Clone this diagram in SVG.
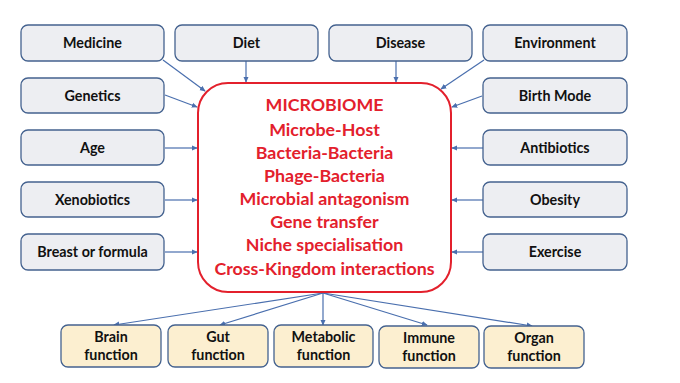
<svg xmlns="http://www.w3.org/2000/svg" width="680" height="383" viewBox="0 0 680 383">
<style>
.n rect{fill:#edeef2;stroke:#44628f;stroke-width:1.3}
.f rect{fill:#fcefd0;stroke:#44628f;stroke-width:1.3}
text{font-family:Lato,"Open Sans","Liberation Sans",sans-serif;font-weight:bold;text-anchor:middle}
.n text,.f text{font-size:14.3px;fill:#111}
.m text{font-size:17.8px;fill:#e3202c}
#edges line{stroke:#4a6fae;stroke-width:1.2;marker-end:url(#ah)}
</style>
<defs>
<marker id="ah" viewBox="0 0 8 8" refX="7" refY="4" markerWidth="6" markerHeight="6" orient="auto" markerUnits="userSpaceOnUse">
<path d="M0,0.5 L8,4 L0,7.5 z" fill="#4a6fae"/>
</marker>
</defs>
<rect width="680" height="383" fill="#fff"/>
<g id="edges">
<line x1="163" y1="60" x2="205" y2="91"/>
<line x1="246" y1="61" x2="246" y2="82"/>
<line x1="396" y1="61" x2="396" y2="82"/>
<line x1="484" y1="60" x2="441" y2="89"/>
<line x1="165" y1="95" x2="197" y2="107"/>
<line x1="482" y1="96" x2="452" y2="107"/>
<line x1="165" y1="148" x2="197" y2="148"/>
<line x1="165" y1="200" x2="197" y2="200"/>
<line x1="165" y1="252" x2="197" y2="252"/>
<line x1="483" y1="148" x2="452" y2="148"/>
<line x1="483" y1="200" x2="452" y2="200"/>
<line x1="483" y1="252" x2="452" y2="252"/>
<line x1="323" y1="293" x2="114" y2="325"/>
<line x1="323" y1="293" x2="220" y2="325"/>
<line x1="323" y1="293" x2="323" y2="325"/>
<line x1="323" y1="293" x2="427" y2="325"/>
<line x1="323" y1="293" x2="532" y2="326"/>
</g>
<g id="medicine" class="n"><rect x="21" y="25" width="143" height="36" rx="7"/><text x="92.5" y="48">Medicine</text></g>
<g id="diet" class="n"><rect x="175" y="25" width="143" height="36" rx="7"/><text x="246.5" y="48">Diet</text></g>
<g id="disease" class="n"><rect x="329" y="25" width="143" height="36" rx="7"/><text x="400.5" y="48">Disease</text></g>
<g id="environment" class="n"><rect x="483" y="25" width="144" height="36" rx="7"/><text x="555" y="48">Environment</text></g>
<g id="genetics" class="n"><rect x="21" y="78" width="143" height="35" rx="7"/><text x="92.5" y="100.5">Genetics</text></g>
<g id="birthmode" class="n"><rect x="483" y="78" width="144" height="35" rx="7"/><text x="555" y="100.5">Birth Mode</text></g>
<g id="age" class="n"><rect x="21" y="130" width="143" height="35" rx="7"/><text x="92.5" y="152.5">Age</text></g>
<g id="antibiotics" class="n"><rect x="483" y="130" width="144" height="35" rx="7"/><text x="555" y="152.5">Antibiotics</text></g>
<g id="xenobiotics" class="n"><rect x="21" y="182" width="143" height="35" rx="7"/><text x="92.5" y="204.5">Xenobiotics</text></g>
<g id="obesity" class="n"><rect x="483" y="182" width="144" height="35" rx="7"/><text x="555" y="204.5">Obesity</text></g>
<g id="breast" class="n"><rect x="21" y="234" width="143" height="36" rx="7"/><text x="92.5" y="257">Breast or formula</text></g>
<g id="exercise" class="n"><rect x="483" y="234" width="144" height="36" rx="7"/><text x="555" y="257">Exercise</text></g>
<g id="microbiome" class="m">
<rect x="198" y="83" width="253" height="209" rx="30" fill="#fff" stroke="#e3202c" stroke-width="2"/>
<text x="324.5" y="111">MICROBIOME</text>
<text x="324.5" y="136">Microbe-Host</text>
<text x="324.5" y="159">Bacteria-Bacteria</text>
<text x="324.5" y="182">Phage-Bacteria</text>
<text x="324.5" y="205">Microbial antagonism</text>
<text x="324.5" y="228">Gene transfer</text>
<text x="324.5" y="251">Niche specialisation</text>
<text x="324.5" y="275">Cross-Kingdom interactions</text>
</g>
<g id="brain" class="f"><rect x="61" y="325" width="100" height="42" rx="7"/><text x="111" y="342">Brain</text><text x="111" y="360">function</text></g>
<g id="gut" class="f"><rect x="168" y="325" width="100" height="42" rx="7"/><text x="218" y="342">Gut</text><text x="218" y="360">function</text></g>
<g id="metabolic" class="f"><rect x="274" y="325" width="99" height="42" rx="7"/><text x="323.5" y="342">Metabolic</text><text x="323.5" y="360">function</text></g>
<g id="immune" class="f"><rect x="379" y="326" width="100" height="42" rx="7"/><text x="429" y="343">Immune</text><text x="429" y="361">function</text></g>
<g id="organ" class="f"><rect x="484" y="326" width="100" height="42" rx="7"/><text x="534" y="343">Organ</text><text x="534" y="361">function</text></g>
</svg>
